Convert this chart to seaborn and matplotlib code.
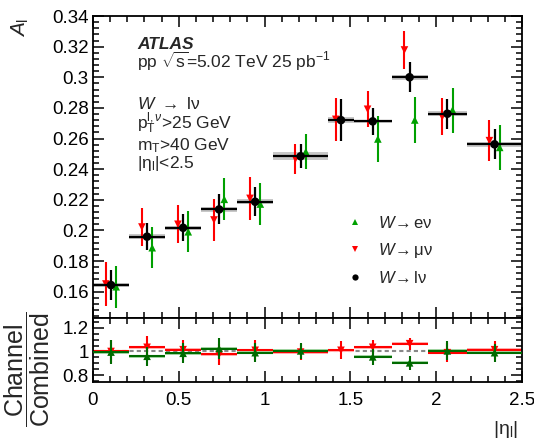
import numpy as np
import pandas as pd
import matplotlib
matplotlib.use("Agg")
import matplotlib.pyplot as plt
import seaborn as sns
from matplotlib.ticker import MultipleLocator, FuncFormatter
from matplotlib.lines import Line2D

# ---------------- data ----------------
eta_edges = [0, 0.21, 0.42, 0.63, 0.84, 1.05, 1.37, 1.52, 1.74, 1.95, 2.18, 2.5]

comb_vals = [0.1643, 0.1959, 0.2017, 0.2137, 0.2187, 0.2484, 0.2720, 0.2712, 0.3000, 0.2762, 0.2562]
comb_err = [0.0098, 0.0087, 0.0087, 0.0098, 0.0094, 0.0078, 0.0135, 0.0087, 0.0097, 0.0099, 0.0098]
comb_syst = [0.0015, 0.0016, 0.0015, 0.0015, 0.0015, 0.0026, 0.0020, 0.0012, 0.0016, 0.0016, 0.0016]

mu_vals = [0.1650, 0.2022, 0.2040, 0.2068, 0.2209, 0.2466, 0.2725, 0.2791, 0.3178, 0.2742, 0.2586]
mu_err = [0.0144, 0.0126, 0.0123, 0.0139, 0.0138, 0.0098, 0.0141, 0.0117, 0.0122, 0.0122, 0.0136]

el_vals = [0.1632, 0.1887, 0.1991, 0.2203, 0.2172, 0.2514, np.nan, 0.2597, 0.2721, 0.2786, 0.2542]
el_err = [0.0136, 0.0133, 0.0134, 0.0136, 0.0139, 0.0114, np.nan, 0.0149, 0.0151, 0.0147, 0.0145]

mu_ratio = [1.000, 1.035, 1.015, 0.975, 1.010, 0.995, 1.010, 1.035, 1.065, 0.990, 1.015]
mu_ratio_err = [0.10, 0.095, 0.08, 0.09, 0.085, 0.065, 0.075, 0.06, 0.05, 0.08, 0.075]
el_ratio = [0.995, 0.960, 0.985, 1.025, 0.990, 1.005, np.nan, 0.955, 0.905, 1.005, 0.990]
el_ratio_err = [0.10, 0.08, 0.085, 0.09, 0.08, 0.07, np.nan, 0.07, 0.06, 0.08, 0.075]
ratio_band = 0.012

x_ticks = [0, 0.5, 1, 1.5, 2, 2.5]

# ---------------- style ----------------
sns.set_theme(style="ticks")
plt.rcParams['font.family'] = ['Liberation Sans', 'DejaVu Sans']
plt.rcParams['mathtext.fontset'] = 'custom'
plt.rcParams['mathtext.rm'] = 'Liberation Sans'
plt.rcParams['mathtext.it'] = 'Liberation Sans:italic'
plt.rcParams['mathtext.bf'] = 'Liberation Sans:bold'

RED = '#ff0000'
GREEN = '#00a000'
DGREEN = '#006a00'

edges = np.array(eta_edges)
centers = 0.5 * (edges[1:] + edges[:-1])
halfw = 0.5 * (edges[1:] - edges[:-1])
shift = 0.03

df = pd.DataFrame({
    'eta': centers, 'comb': comb_vals, 'comb_err': comb_err, 'syst': comb_syst,
    'mu': mu_vals, 'mu_err': mu_err, 'el': el_vals, 'el_err': el_err,
    'mu_r': mu_ratio, 'mu_r_err': mu_ratio_err, 'el_r': el_ratio, 'el_r_err': el_ratio_err,
})

fig = plt.figure(figsize=(5.34, 4.47), dpi=100)
L, R = 93 / 534, 522 / 534
ax = fig.add_axes([L, 1 - 318 / 447, R - L, (318 - 16) / 447])
axr = fig.add_axes([L, 1 - 382 / 447, R - L, (382 - 318) / 447])

# ---------------- top panel ----------------
ax.bar(df['eta'], 2 * df['syst'], bottom=df['comb'] - df['syst'], width=2 * halfw,
       color='#c8c8c8', edgecolor='none', zorder=1)

ax.errorbar(df['eta'] - shift, df['mu'], yerr=df['mu_err'], fmt='none',
            ecolor=RED, elinewidth=1.5, capsize=0, zorder=2)
ax.errorbar(df['eta'] + shift, df['el'], yerr=df['el_err'], fmt='none',
            ecolor=GREEN, elinewidth=1.5, capsize=0, zorder=2)
sns.scatterplot(x=df['eta'] - shift, y=df['mu'], marker='v', s=30, color=RED,
                edgecolor='none', ax=ax, zorder=3, legend=False)
sns.scatterplot(x=df['eta'] + shift, y=df['el'], marker='^', s=30, color=GREEN,
                edgecolor='none', ax=ax, zorder=3, legend=False)
ax.errorbar(df['eta'], df['comb'], xerr=halfw, yerr=df['comb_err'], fmt='none',
            ecolor='black', elinewidth=1.6, capsize=0, zorder=4)
sns.scatterplot(x=df['eta'], y=df['comb'], marker='o', s=38, color='black',
                edgecolor='none', ax=ax, zorder=5, legend=False)

ax.set_xlim(0, 2.5)
ax.set_ylim(0.1428, 0.34)
ax.set_xlabel('')
ax.set_ylabel('')
ax.xaxis.set_major_locator(MultipleLocator(0.5))
ax.xaxis.set_minor_locator(MultipleLocator(0.1))
ax.yaxis.set_major_locator(MultipleLocator(0.02))
ax.yaxis.set_minor_locator(MultipleLocator(0.004))
ax.yaxis.set_major_formatter(FuncFormatter(lambda v, p: '%g' % round(v, 4)))
ax.tick_params(axis='x', which='both', labelbottom=False)

# ---------------- ratio panel ----------------
axr.plot([0, 2.5], [1, 1], color='#888888', lw=1.5, ls=(0, (2, 1.5)), zorder=1)
axr.bar(df['eta'], 2 * ratio_band, bottom=df['mu_r'] - ratio_band, width=2 * halfw,
        color='#ffb4b4', edgecolor='none', zorder=1.5)
axr.bar(df['eta'], 2 * ratio_band, bottom=df['el_r'] - ratio_band, width=2 * halfw,
        color='#a8d8a8', edgecolor='none', zorder=1.6)
axr.errorbar(df['eta'], df['mu_r'], xerr=halfw, yerr=df['mu_r_err'], fmt='none',
             ecolor=RED, elinewidth=1.5, capsize=0, zorder=2)
sns.scatterplot(x=df['eta'], y=df['mu_r'], marker='v', s=30, color=RED,
                edgecolor='none', ax=axr, zorder=3, legend=False)
axr.errorbar(df['eta'], df['el_r'], xerr=halfw, yerr=df['el_r_err'], fmt='none',
             ecolor=DGREEN, elinewidth=1.5, capsize=0, zorder=4)
sns.scatterplot(x=df['eta'], y=df['el_r'], marker='^', s=30, color=DGREEN,
                edgecolor='none', ax=axr, zorder=5, legend=False)

axr.set_xlim(0, 2.5)
axr.set_ylim(0.745, 1.28)
axr.set_xlabel('')
axr.set_ylabel('')
axr.set_xticks(x_ticks)
axr.xaxis.set_major_formatter(FuncFormatter(lambda v, p: '%g' % v))
axr.xaxis.set_minor_locator(MultipleLocator(0.1))
axr.yaxis.set_major_locator(MultipleLocator(0.2))
axr.yaxis.set_minor_locator(MultipleLocator(0.05))
axr.yaxis.set_major_formatter(FuncFormatter(lambda v, p: '%g' % round(v, 3)))

for a in (ax, axr):
    for s in a.spines.values():
        s.set_linewidth(1.3)
        s.set_color('black')
    a.tick_params(which='both', direction='in', top=True, right=True,
                  colors='black', labelsize=13.5, width=1.1)
    a.tick_params(which='major', length=8)
    a.tick_params(which='minor', length=4)
    a.tick_params(axis='x', pad=7)
    a.tick_params(axis='y', pad=3)

# ---------------- texts ----------------
fs = 12.5
ax.text(0.103, 0.907, 'ATLAS', transform=ax.transAxes, fontsize=fs,
        fontweight='bold', fontstyle='italic', va='center', ha='left')
ax.text(0.103, 0.848, r'pp $\sqrt{\mathrm{s}}$=5.02 TeV 25 pb$^{-1}$', transform=ax.transAxes,
        fontsize=fs, va='center', ha='left')
ax.text(0.103, 0.710, r'$\mathit{W}$ $\rightarrow$ lν', transform=ax.transAxes,
        fontsize=fs, va='center', ha='left')
ax.text(0.103, 0.644, r'p$_\mathrm{T}^{\mathrm{l},\nu}$>25 GeV', transform=ax.transAxes,
        fontsize=fs, va='center', ha='left')
ax.text(0.103, 0.572, r'm$_\mathrm{T}$>40 GeV', transform=ax.transAxes,
        fontsize=fs, va='center', ha='left')
ax.text(0.103, 0.511, r'|η$_\mathrm{l}$|<2.5', transform=ax.transAxes,
        fontsize=fs, va='center', ha='left')

handles = [
    Line2D([], [], ls='none', marker='^', color=GREEN, markersize=4.5, markeredgewidth=0),
    Line2D([], [], ls='none', marker='v', color=RED, markersize=4.5, markeredgewidth=0),
    Line2D([], [], ls='none', marker='o', color='black', markersize=4.5, markeredgewidth=0),
]
labels = [r'$\mathit{W}\!\rightarrow$eν', r'$\mathit{W}\!\rightarrow$μν', r'$\mathit{W}\!\rightarrow$lν']
ax.legend(handles, labels, loc='upper left', bbox_to_anchor=(0.592, 0.342),
          frameon=False, fontsize=12, borderpad=0, borderaxespad=0,
          handlelength=1.0, handletextpad=0.85, labelspacing=0.6)

fig.text(20 / 534, 1 - 27 / 447, r'$A_\mathrm{l}$', rotation=90, fontsize=15,
         ha='center', va='center')
fig.text(505 / 534, 1 - 430 / 447, r'|η$_\mathrm{l}$|', fontsize=14,
         ha='center', va='center')
fig.text(27 / 534, 1 - 369 / 447, r'$\dfrac{\mathrm{Channel}}{\mathrm{Combined}}$',
         rotation=90, fontsize=18, ha='center', va='center')

fig.savefig('out.png', dpi=100)
